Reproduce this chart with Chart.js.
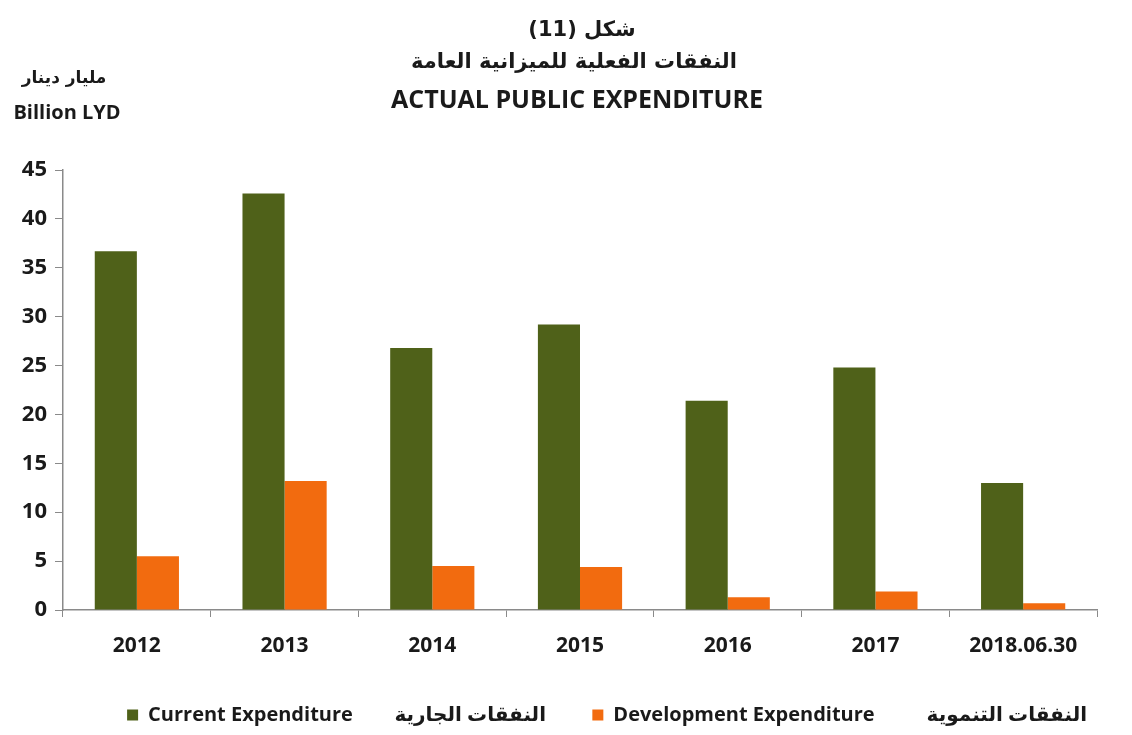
<!DOCTYPE html>
<html>
<head>
<meta charset="utf-8">
<script src="https://cdn.jsdelivr.net/npm/chart.js@4/dist/chart.umd.min.js"></script>
<style>
  body { margin: 0; background: #fff; }
  #wrap { width: 1132px; height: 735px; }
</style>
</head>
<body>
<div id="wrap"><canvas id="myChart" width="1132" height="735"></canvas></div>
<script>
// values (billion LYD)
const categories = ['2012', '2013', '2014', '2015', '2016', '2017', '2018.06.30'];
const currentExp = [36.7, 42.6, 26.8, 29.2, 21.4, 24.8, 13.0];
const developmentExp = [5.5, 13.2, 4.5, 4.4, 1.3, 1.9, 0.7];
const seriesNames = [
  'Current Expenditure        النفقات الجارية       ',
  'Development Expenditure          النفقات التنموية'
];
const titleLines = ['شكل (11)', 'النفقات الفعلية للميزانية العامة', 'ACTUAL PUBLIC EXPENDITURE'];
const unitLines = ['مليار دينار', 'Billion LYD'];

const fontFam = "'Open Sans', 'DejaVu Sans', sans-serif";
const arFont = "'DejaVu Sans', sans-serif";
const axisColor = '#8a8a8a';

// header text: title block + unit label
const headerText = {
  id: 'headerText',
  afterDraw(chart) {
    const ctx = chart.ctx;
    ctx.save();
    ctx.fillStyle = '#1a1a1a';
    ctx.textBaseline = 'middle';
    ctx.textAlign = 'center';
    ctx.direction = 'rtl';
    ctx.font = 'bold 21px ' + arFont;
    ctx.fillText(titleLines[0], 582, 31);
    ctx.fillText(titleLines[1], 574, 63);
    ctx.direction = 'ltr';
    ctx.font = 'bold 25px ' + fontFam;
    ctx.fillText(titleLines[2], 577, 101);

    ctx.direction = 'rtl';
    ctx.font = 'bold 17px ' + arFont;
    ctx.fillText(unitLines[0], 64, 79);
    ctx.direction = 'ltr';
    ctx.font = 'bold 20px ' + fontFam;
    ctx.fillText(unitLines[1], 67, 113);
    ctx.restore();
  }
};

const data = {
  labels: categories,
  datasets: [
    {
      label: seriesNames[0],
      data: currentExp,
      backgroundColor: '#4f6119',
      categoryPercentage: 0.57,
      barPercentage: 1.0,
    },
    {
      label: seriesNames[1],
      data: developmentExp,
      backgroundColor: '#f26b0f',
      categoryPercentage: 0.57,
      barPercentage: 1.0,
    },
  ],
};

const config = {
  type: 'bar',
  data: data,
  plugins: [headerText],
  options: {
    responsive: false,
    animation: false,
    layout: {
      padding: { top: 170, right: 35, left: 0, bottom: 0 },
    },
    scales: {
      x: {
        grid: {
          offset: true,
          drawOnChartArea: false,
          drawTicks: true,
          tickLength: 7,
          color: axisColor,
        },
        border: { color: axisColor, width: 1.5 },
        ticks: {
          color: '#1a1a1a',
          font: { family: fontFam, size: 21, weight: 'bold' },
          padding: 16,
          maxRotation: 0,
        },
        afterFit(scale) {
          scale.height = 85;
        },
      },
      y: {
        min: 0,
        max: 45,
        grid: {
          drawOnChartArea: false,
          drawTicks: true,
          tickLength: 8,
          color: axisColor,
        },
        border: { color: axisColor, width: 1.5 },
        ticks: {
          stepSize: 5,
          color: '#1a1a1a',
          font: { family: fontFam, size: 22, weight: 'bold' },
          padding: 8,
        },
        afterFit(scale) {
          scale.width = 63;
        },
      },
    },
    plugins: {
      legend: {
        position: 'bottom',
        align: 'end',
        labels: {
          boxWidth: 11,
          boxHeight: 11,
          padding: 10,
          color: '#1a1a1a',
          font: { family: fontFam, size: 20, weight: 'bold' },
        },
      },
      title: { display: false },
      tooltip: { enabled: false },
    },
  },
};

var ctx = document.getElementById('myChart');
var myChart = new Chart(ctx, config);
</script>
</body>
</html>
